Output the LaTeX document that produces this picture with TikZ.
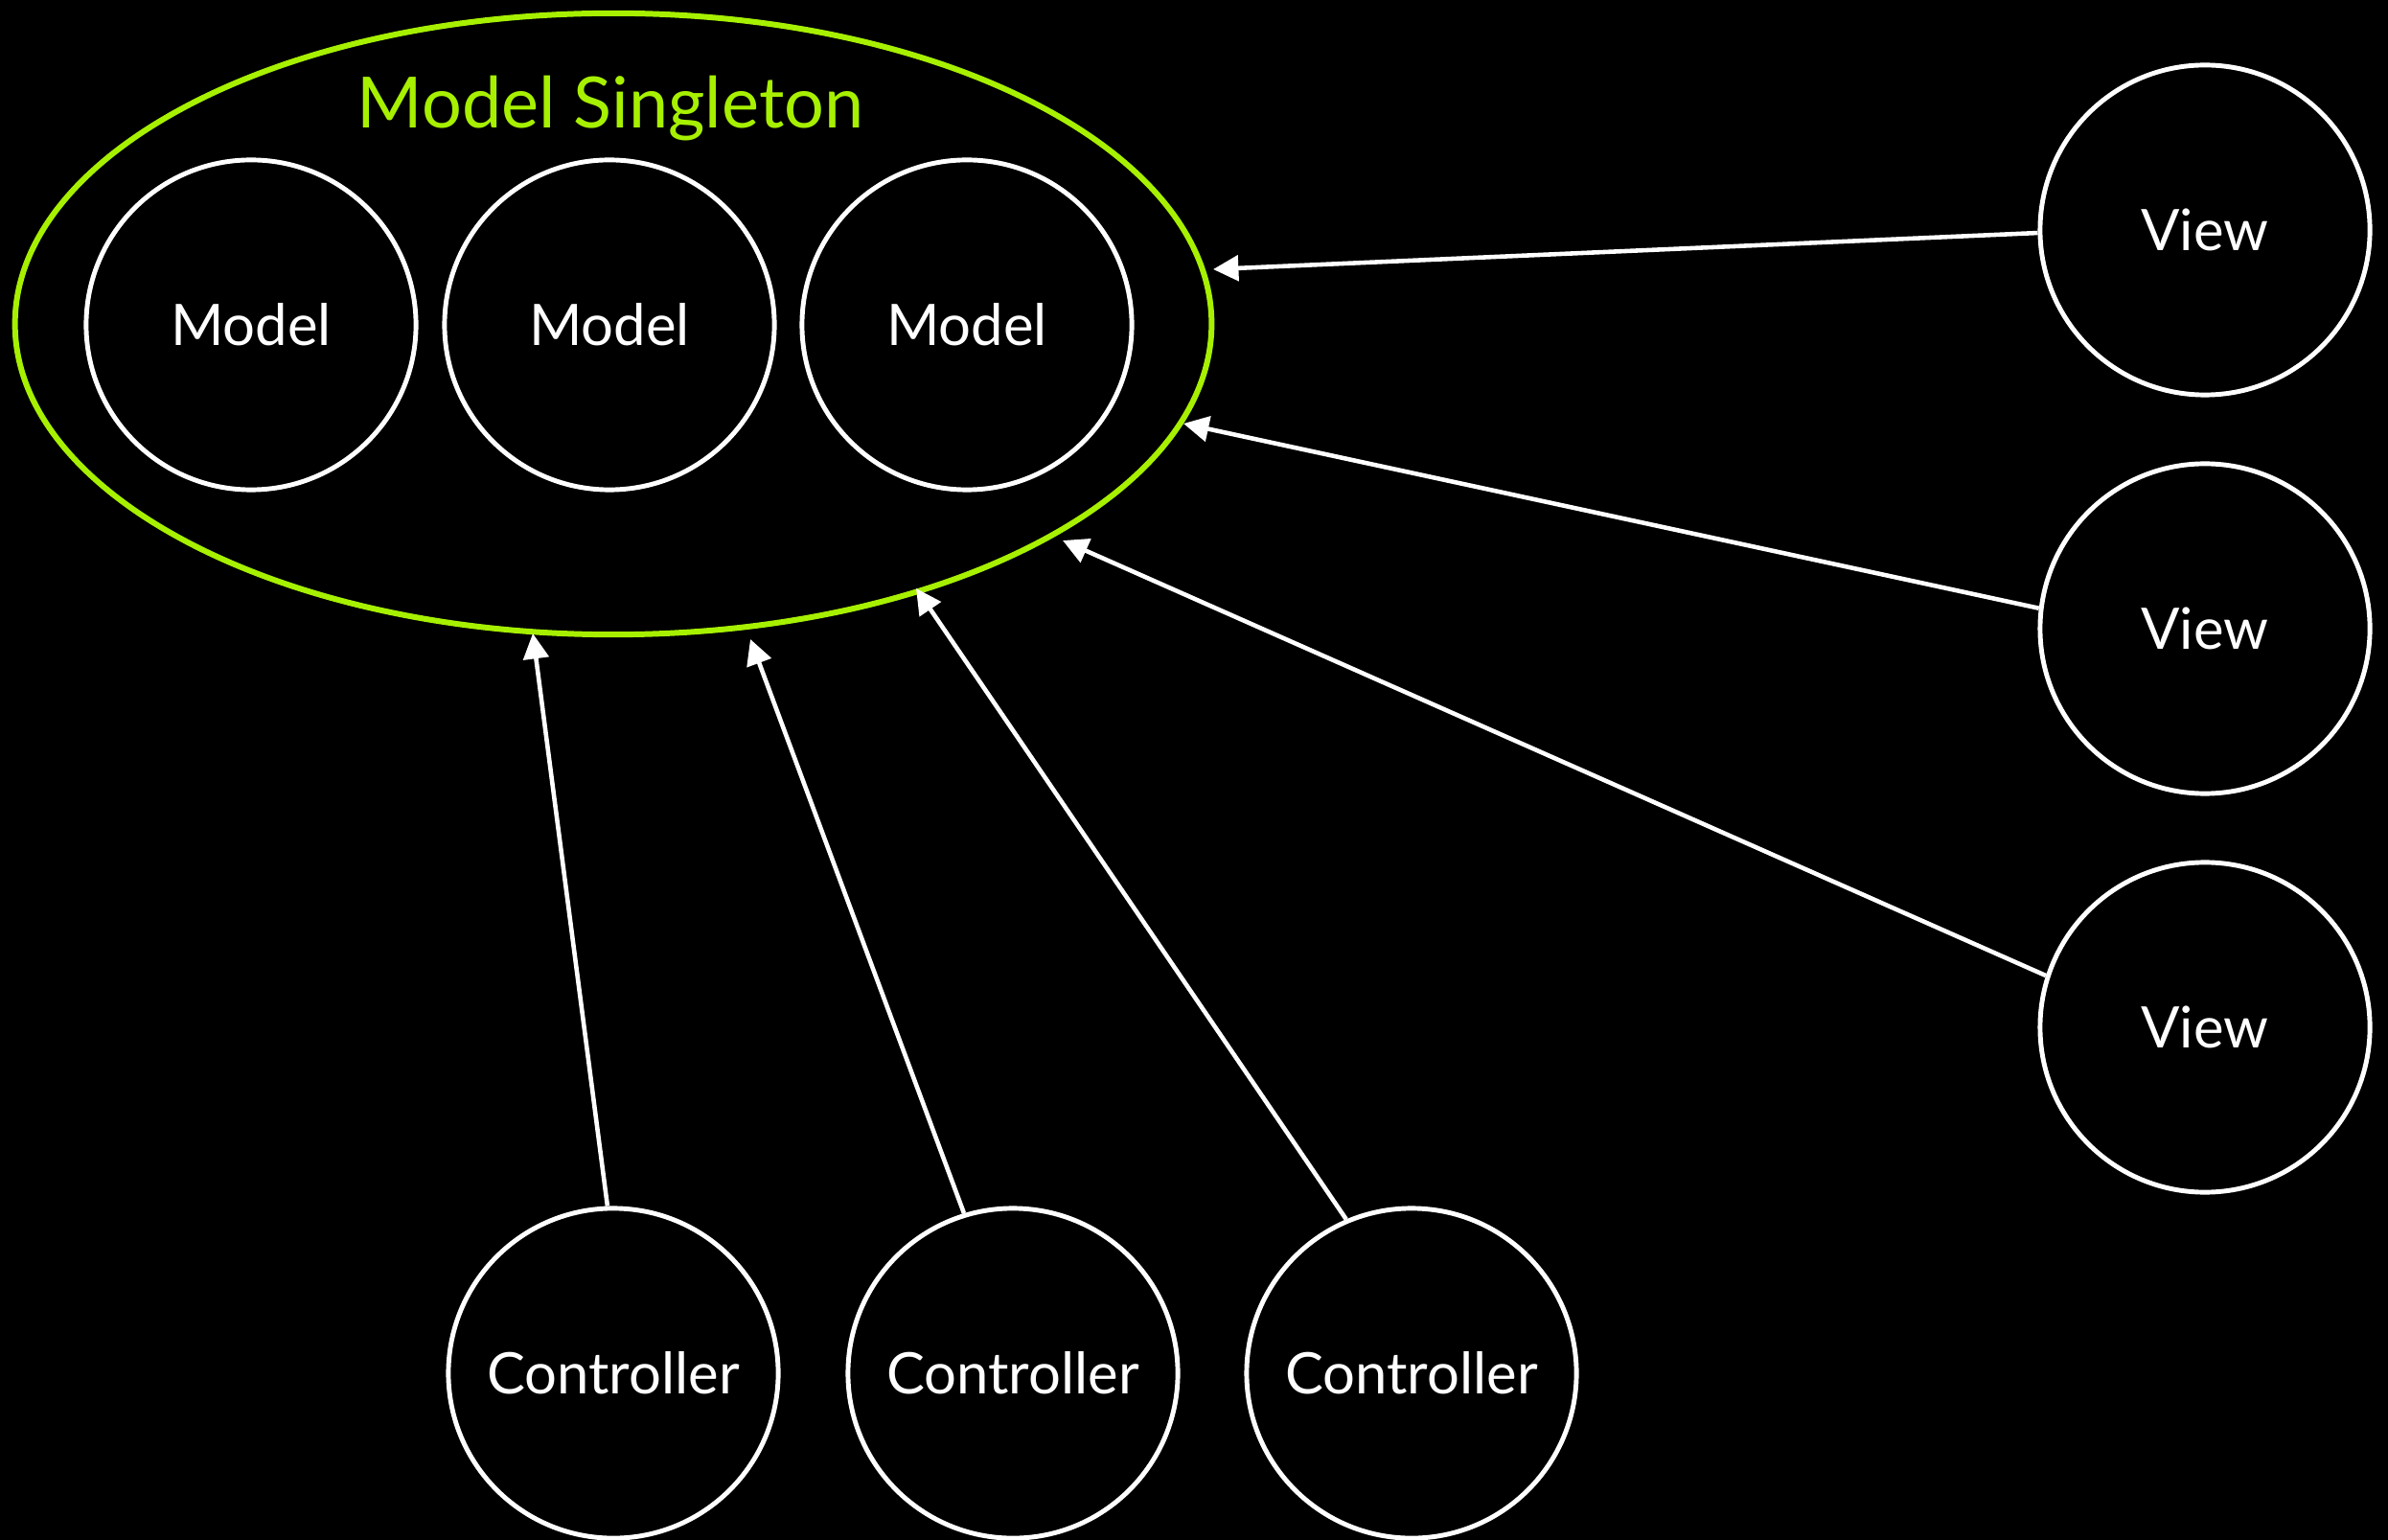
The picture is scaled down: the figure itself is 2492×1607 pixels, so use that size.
\documentclass[tikz,border=0pt]{standalone}
\usepackage{fontspec}
\setmainfont{Lato}
\usetikzlibrary{arrows.meta,shapes.geometric}
\definecolor{lime}{RGB}{166,240,0}
\begin{document}
\begin{tikzpicture}[x=0.01cm,y=-0.01cm,
  part/.style={circle,draw=white,line width=1.4pt,fill=black,
    minimum size=3.44cm,inner sep=0pt,text=white,font=\fontsize{17}{20}\selectfont},
  group/.style={ellipse,draw=lime,line width=1.7pt,
    minimum width=12.48cm,minimum height=6.48cm,inner sep=0pt},
  link/.style={draw=white,line width=1.3pt,
    -{Triangle[length=7.5pt,width=7.5pt]}}]
  % canvas
  \fill[black] (0,0) rectangle (2492,1607);
  \useasboundingbox (0,0) rectangle (2492,1607);

  % the singleton holding the models
  \node[group] (ms) at (640,338) {};
  \node[anchor=base,text=lime,font=\fontsize{21}{24}\selectfont] (title) at (637,134) {Model Singleton};
  \node[part] (m1) at (262,339) {Model};
  \node[part] (m2) at (636,339) {Model};
  \node[part] (m3) at (1009,339) {Model};

  % views
  \node[part] (v1) at (2301,240) {View};
  \node[part] (v2) at (2301,656) {View};
  \node[part] (v3) at (2301,1072) {View};

  % controllers
  \node[part] (c1) at (640,1433) {Controller};
  \node[part] (c2) at (1057,1433) {Controller};
  \node[part] (c3) at (1473,1433) {Controller};

  % arrow targets on the singleton
  \coordinate (tv1) at (1266,281);
  \coordinate (tv2) at (1235,442);
  \coordinate (tv3) at (1109,564);
  \coordinate (tc1) at (556,661);
  \coordinate (tc2) at (783,667);
  \coordinate (tc3) at (956,614);

  \draw[link] (v1.181) -- (tv1);
  \draw[link] (v2.173) -- (tv2);
  \draw[link] (v3.162) -- (tv3);
  \draw[link] (c1.92) -- (tc1);
  \draw[link] (c2.107) -- (tc2);
  \draw[link] (c3.113) -- (tc3);
\end{tikzpicture}
\end{document}
